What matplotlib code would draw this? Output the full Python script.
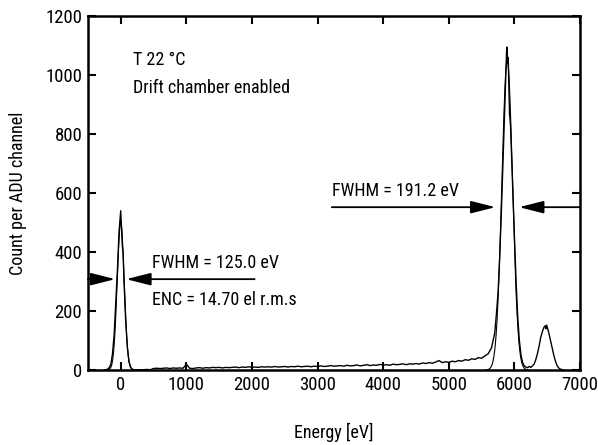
import numpy as np
import matplotlib
matplotlib.use("Agg")
import matplotlib.pyplot as plt
from matplotlib import font_manager

# Measured spectrum: energy [eV] and counts per ADU channel
energy_ev = [
    -250, -225, -200, -175, -150, -125, -100, -75, -50, -25, 0, 12, 25, 37, 50,
    75, 100, 125, 150, 175, 200,
    250, 300, 350, 400, 450, 500, 550, 600, 650, 700, 750, 800, 850, 900, 950,
    1000, 1050, 1100, 1150, 1200, 1250, 1300, 1350, 1400, 1450, 1500, 1550,
    1600, 1650, 1700, 1750, 1800, 1850, 1900, 1950, 2000, 2050, 2100, 2150,
    2200, 2250, 2300, 2350, 2400, 2450, 2500, 2550, 2600, 2650, 2700, 2750,
    2800, 2850, 2900, 2950, 3000, 3050, 3100, 3150, 3200, 3250, 3300, 3350,
    3400, 3450, 3500, 3550, 3600, 3650, 3700, 3750, 3800, 3850, 3900, 3950,
    4000, 4050, 4100, 4150, 4200, 4250, 4300, 4350, 4400, 4450, 4500, 4550,
    4600, 4650, 4700, 4750, 4800, 4850, 4900, 4950, 5000, 5050, 5100, 5150,
    5200, 5250, 5300, 5350, 5400, 5450, 5500, 5550, 5600, 5650, 5675, 5700,
    5725, 5750, 5775, 5800, 5825, 5850, 5870, 5880, 5885, 5895, 5905, 5915,
    5925, 5940, 5960, 5980, 6000, 6025, 6050, 6075, 6100, 6125, 6150, 6175,
    6200, 6225, 6250, 6275, 6300, 6325, 6350, 6375, 6400, 6425, 6450, 6470,
    6480, 6490, 6500, 6525, 6550, 6575, 6600, 6625, 6650, 6675, 6700, 6750,
]
counts = [
    0, 1, 3, 8, 20, 55, 120, 230, 340, 470, 540, 480, 420, 395, 300,
    170, 80, 30, 10, 3, 1,
    1, 1, 1, 2, 1, 5, 6, 5, 6, 7, 5, 7, 6, 7, 6,
    20, 6, 5, 7, 8, 6, 8, 7, 9, 8, 9, 7,
    9, 8, 9, 10, 8, 10, 9, 11, 9, 10, 9, 11,
    10, 11, 10, 12, 10, 11, 12, 10, 12, 11, 13, 11,
    12, 13, 11, 13, 12, 14, 12, 13, 15, 13, 14, 15,
    13, 16, 14, 15, 17, 14, 16, 18, 15, 17, 16, 19,
    17, 18, 16, 20, 18, 19, 21, 18, 21, 20, 22, 20,
    24, 22, 25, 23, 27, 32, 25, 28, 26, 30, 28, 32,
    30, 35, 33, 38, 36, 42, 40, 48, 55, 75, 100, 125,
    190, 260, 380, 530, 700, 870, 1000, 1080, 1095, 1040, 1060, 960,
    870, 830, 700, 560, 450, 300, 180, 100, 50, 25, 14, 10,
    8, 12, 9, 14, 20, 35, 55, 80, 110, 130, 145, 150,
    140, 152, 145, 125, 100, 75, 50, 30, 15, 7, 3, 0,
]

# Gaussian fits: centre [eV], amplitude [counts], FWHM [eV]
noise_center, noise_amp, noise_fwhm = 0.0, 500.0, 125.0
mnka_center, mnka_amp, mnka_fwhm = 5890.0, 1050.0, 191.2

x_ticks = [0, 1000, 2000, 3000, 4000, 5000, 6000, 7000]
y_ticks = [0, 200, 400, 600, 800, 1000, 1200]


def pick_narrow_font():
    entries = font_manager.fontManager.ttflist
    def ok(f):
        return f.style == "normal" and f.weight in (400, "normal", "regular")
    prefs = ["Liberation Sans Narrow", "DejaVu Sans Condensed", "Roboto Condensed",
             "Open Sans Condensed", "Noto Sans Condensed"]
    for p in prefs:
        for f in entries:
            if f.name == p and ok(f):
                return f
    for f in entries:
        if ok(f) and ("Condensed" in f.fname or "Narrow" in f.fname
                      or f.stretch in ("condensed", "semi-condensed")):
            return f
    return None


narrow = pick_narrow_font()
if narrow is not None:
    plt.rcParams["font.family"] = narrow.name
    plt.rcParams["font.stretch"] = narrow.stretch
    fs = 13
else:
    plt.rcParams["font.family"] = "DejaVu Sans"
    fs = 11

fig = plt.figure(figsize=(5.98, 4.45), dpi=100)
ax = fig.add_axes([0.147, 0.1685, 0.823, 0.7955])


def gauss(x, c, a, fwhm):
    s = fwhm / (2.0 * np.sqrt(2.0 * np.log(2.0)))
    return a * np.exp(-0.5 * ((x - c) / s) ** 2)


xf0 = np.linspace(noise_center - 250, noise_center + 250, 300)
xf1 = np.linspace(mnka_center - 320, mnka_center + 320, 400)

ax.plot(energy_ev, counts, color="black", lw=1.0)
ax.plot(xf0, gauss(xf0, noise_center, noise_amp, noise_fwhm), color="black", lw=0.8)
ax.plot(xf1, gauss(xf1, mnka_center, mnka_amp, mnka_fwhm), color="black", lw=0.8)

ax.set_xlim(-500, 7000)
ax.set_ylim(0, 1200)
ax.set_xticks(x_ticks)
ax.set_yticks(y_ticks)
ax.tick_params(direction="in", length=6, width=1.5, top=True, right=True,
               labelsize=fs + 0.5, pad=4)
for sp in ax.spines.values():
    sp.set_linewidth(1.8)

ax.set_xlabel("Energy [eV]", fontsize=fs, labelpad=21)
ax.set_ylabel("Count per ADU channel", fontsize=fs, labelpad=13)

arrow = dict(arrowstyle="-|>,head_length=1.5,head_width=0.38", color="black",
             lw=1.3, shrinkA=0, mutation_scale=10)

# FWHM arrows on the noise peak
y0 = 308
ax.annotate("", xy=(noise_center - noise_fwhm / 2, y0), xytext=(-500, y0),
            arrowprops=dict(arrow, shrinkB=1))
ax.annotate("", xy=(noise_center + noise_fwhm / 2, y0), xytext=(2040, y0),
            arrowprops=dict(arrow, shrinkB=1))
ax.text(470, 363, f"FWHM = {noise_fwhm:.1f} eV", va="center", ha="left", fontsize=fs)
ax.text(470, 237, "ENC = 14.70 el r.m.s", va="center", ha="left", fontsize=fs)

# FWHM arrows on the Mn K-alpha peak
y1 = 552
ax.annotate("", xy=(mnka_center - mnka_fwhm / 2, y1), xytext=(3216, y1),
            arrowprops=dict(arrow, shrinkB=4))
ax.annotate("", xy=(mnka_center + mnka_fwhm / 2, y1), xytext=(7000, y1),
            arrowprops=dict(arrow, shrinkB=4))
ax.text(3216, 575, f"FWHM = {mnka_fwhm:.1f} eV", va="bottom", ha="left", fontsize=fs)

ax.text(183, 1051, "T 22 °C", va="center", ha="left", fontsize=fs)
ax.text(183, 956, "Drift chamber enabled", va="center", ha="left", fontsize=fs)

fig.savefig("out.png", dpi=100)
